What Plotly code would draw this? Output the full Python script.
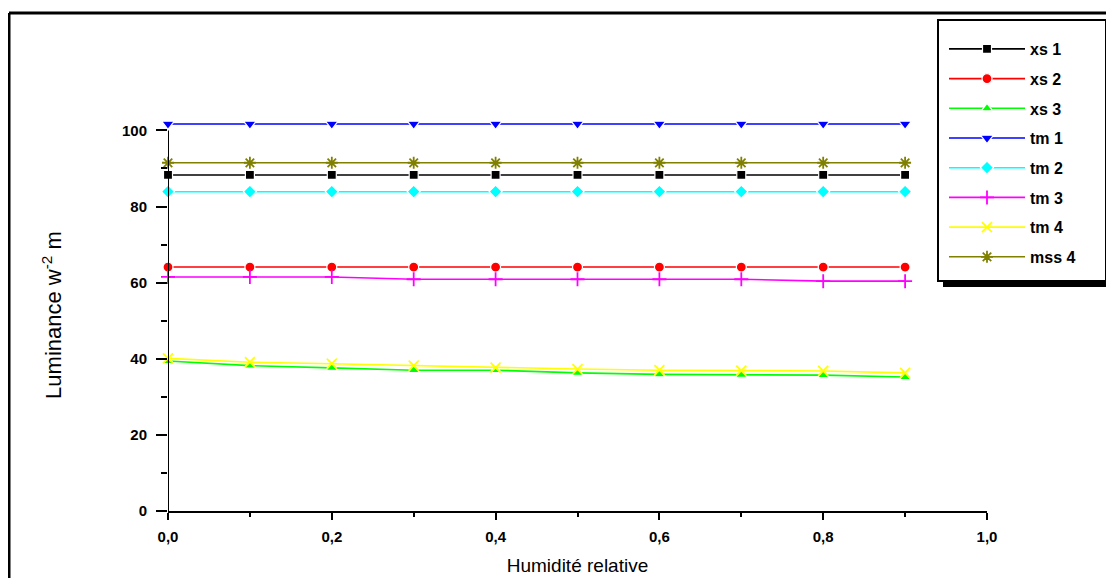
import plotly.graph_objects as go

# ---------------- data ----------------
humidity = [0.0, 0.1, 0.2, 0.3, 0.4, 0.5, 0.6, 0.7, 0.8, 0.9]

xs1 = [88.3, 88.3, 88.3, 88.3, 88.3, 88.3, 88.3, 88.3, 88.3, 88.3]
xs2 = [64.1, 64.1, 64.1, 64.1, 64.1, 64.1, 64.1, 64.1, 64.1, 64.1]
xs3 = [39.4, 38.2, 37.6, 37.0, 37.0, 36.3, 35.9, 35.8, 35.7, 35.2]
tm1 = [101.7, 101.7, 101.7, 101.7, 101.7, 101.7, 101.7, 101.7, 101.7, 101.7]
tm2 = [83.9, 83.9, 83.9, 83.9, 83.9, 83.9, 83.9, 83.9, 83.9, 83.9]
tm3 = [61.5, 61.5, 61.5, 60.9, 60.9, 60.9, 60.9, 60.9, 60.4, 60.4]
tm4 = [40.1, 39.1, 38.7, 38.2, 37.7, 37.3, 37.0, 36.9, 36.8, 36.3]
mss4 = [91.5, 91.5, 91.5, 91.5, 91.5, 91.5, 91.5, 91.5, 91.5, 91.5]

series_names = ["xs 1", "xs 2", "xs 3", "tm 1", "tm 2", "tm 3", "tm 4", "mss 4"]
series_values = [xs1, xs2, xs3, tm1, tm2, tm3, tm4, mss4]

x_tick_vals = [0.0, 0.2, 0.4, 0.6, 0.8, 1.0]
y_tick_vals = [0, 20, 40, 60, 80, 100]

x_title = "Humidité relative"
y_title = "Luminance w<sup>-2</sup> m"

# ---------------- styles ----------------
colors = ["#000000", "#FF0000", "#00FF00", "#0000FF", "#00FFFF", "#FF00FF", "#FFFF00", "#808000"]
symbols = ["square", "circle", "triangle-up", "triangle-down", "diamond",
           "cross-thin-open", "x-thin-open", "asterisk-open"]
sizes = [9, 10, 10, 11, 10, 10, 10, 10]

OFF = 8  # page body margin offset
W, H = 1114 - OFF, 578 - OFF
ML, MR, MT, MB = 168 - OFF, 127, 119 - OFF, 67
PW, PH = W - ML - MR, H - MT - MB


def px(xp):
    return (xp - OFF - ML) / PW


def py(yp):
    return (OFF + H - MB - yp) / PH


FONT = "Liberation Sans"

fig = go.Figure()
for i, (name, vals) in enumerate(zip(series_names, series_values)):
    open_sym = symbols[i].endswith("open")
    marker = dict(symbol=symbols[i], size=sizes[i], color=colors[i])
    if open_sym:
        marker["line"] = dict(color=colors[i], width=1.8)
    else:
        marker["line"] = dict(color="white", width=1.2)
    fig.add_trace(go.Scatter(
        x=humidity, y=vals, name=name, mode="lines+markers",
        line=dict(color=colors[i], width=1.6),
        marker=marker, cliponaxis=False, legendgroup=name,
    ))

shapes = [
    # outer frame (top and left edges visible)
    dict(type="line", xref="paper", yref="paper", x0=px(9), x1=px(1200), y0=py(13), y1=py(13),
         line=dict(color="black", width=3)),
    dict(type="line", xref="paper", yref="paper", x0=px(9), x1=px(9), y0=py(13), y1=py(700),
         line=dict(color="black", width=3)),
    # y axis line from 0 to 100
    dict(type="line", xref="x", yref="y", x0=0, x1=0, y0=-2, y1=100,
         line=dict(color="black", width=2), layer="above"),
    # legend shadow + box
    dict(type="rect", xref="paper", yref="paper", x0=px(943), x1=px(1112), y0=py(287), y1=py(25),
         fillcolor="black", line=dict(width=0)),
    dict(type="rect", xref="paper", yref="paper", x0=px(938), x1=px(1106), y0=py(281), y1=py(20),
         fillcolor="white", line=dict(color="black", width=2)),
]

fig.update_layout(
    width=W, height=H,
    margin=dict(l=ML, r=MR, t=MT, b=MB, autoexpand=False),
    paper_bgcolor="white", plot_bgcolor="white",
    separators=", ",
    font=dict(family=FONT, size=13, color="black"),
    showlegend=True,
    legend=dict(
        x=px(944), y=py(32), xanchor="left", yanchor="top",
        bgcolor="rgba(0,0,0,0)", borderwidth=0,
        font=dict(family=FONT, size=16, color="black", weight="bold"),
        traceorder="grouped", tracegroupgap=5.9, itemwidth=76,
    ),
    shapes=shapes,
    xaxis=dict(
        range=[0, 1], showgrid=False, zeroline=False,
        showline=True, linecolor="black", linewidth=2,
        ticks="outside", ticklen=7, tickwidth=1.5, tickcolor="black",
        tickvals=x_tick_vals, tickformat=".1f", ticklabelstandoff=4,
        tickfont=dict(family=FONT, size=15, color="black", weight="bold"),
        minor=dict(dtick=0.1, ticks="outside", ticklen=4, tickwidth=1.5, tickcolor="black"),
        title=dict(text=x_title, standoff=15,
                   font=dict(family=FONT, size=19, color="black")),
        automargin=False,
    ),
    yaxis=dict(
        range=[0, 103], showgrid=False, zeroline=False, showline=False,
        ticks="outside", ticklen=11, tickwidth=1.5, tickcolor="black",
        tickvals=y_tick_vals, ticklabelstandoff=6,
        tickfont=dict(family=FONT, size=15, color="black", weight="bold"),
        minor=dict(dtick=10, ticks="outside", ticklen=6, tickwidth=1.5, tickcolor="black"),
        title=dict(text=y_title, standoff=54,
                   font=dict(family=FONT, size=22, color="black")),
        automargin=False,
    ),
)

fig.write_html("out.html")
